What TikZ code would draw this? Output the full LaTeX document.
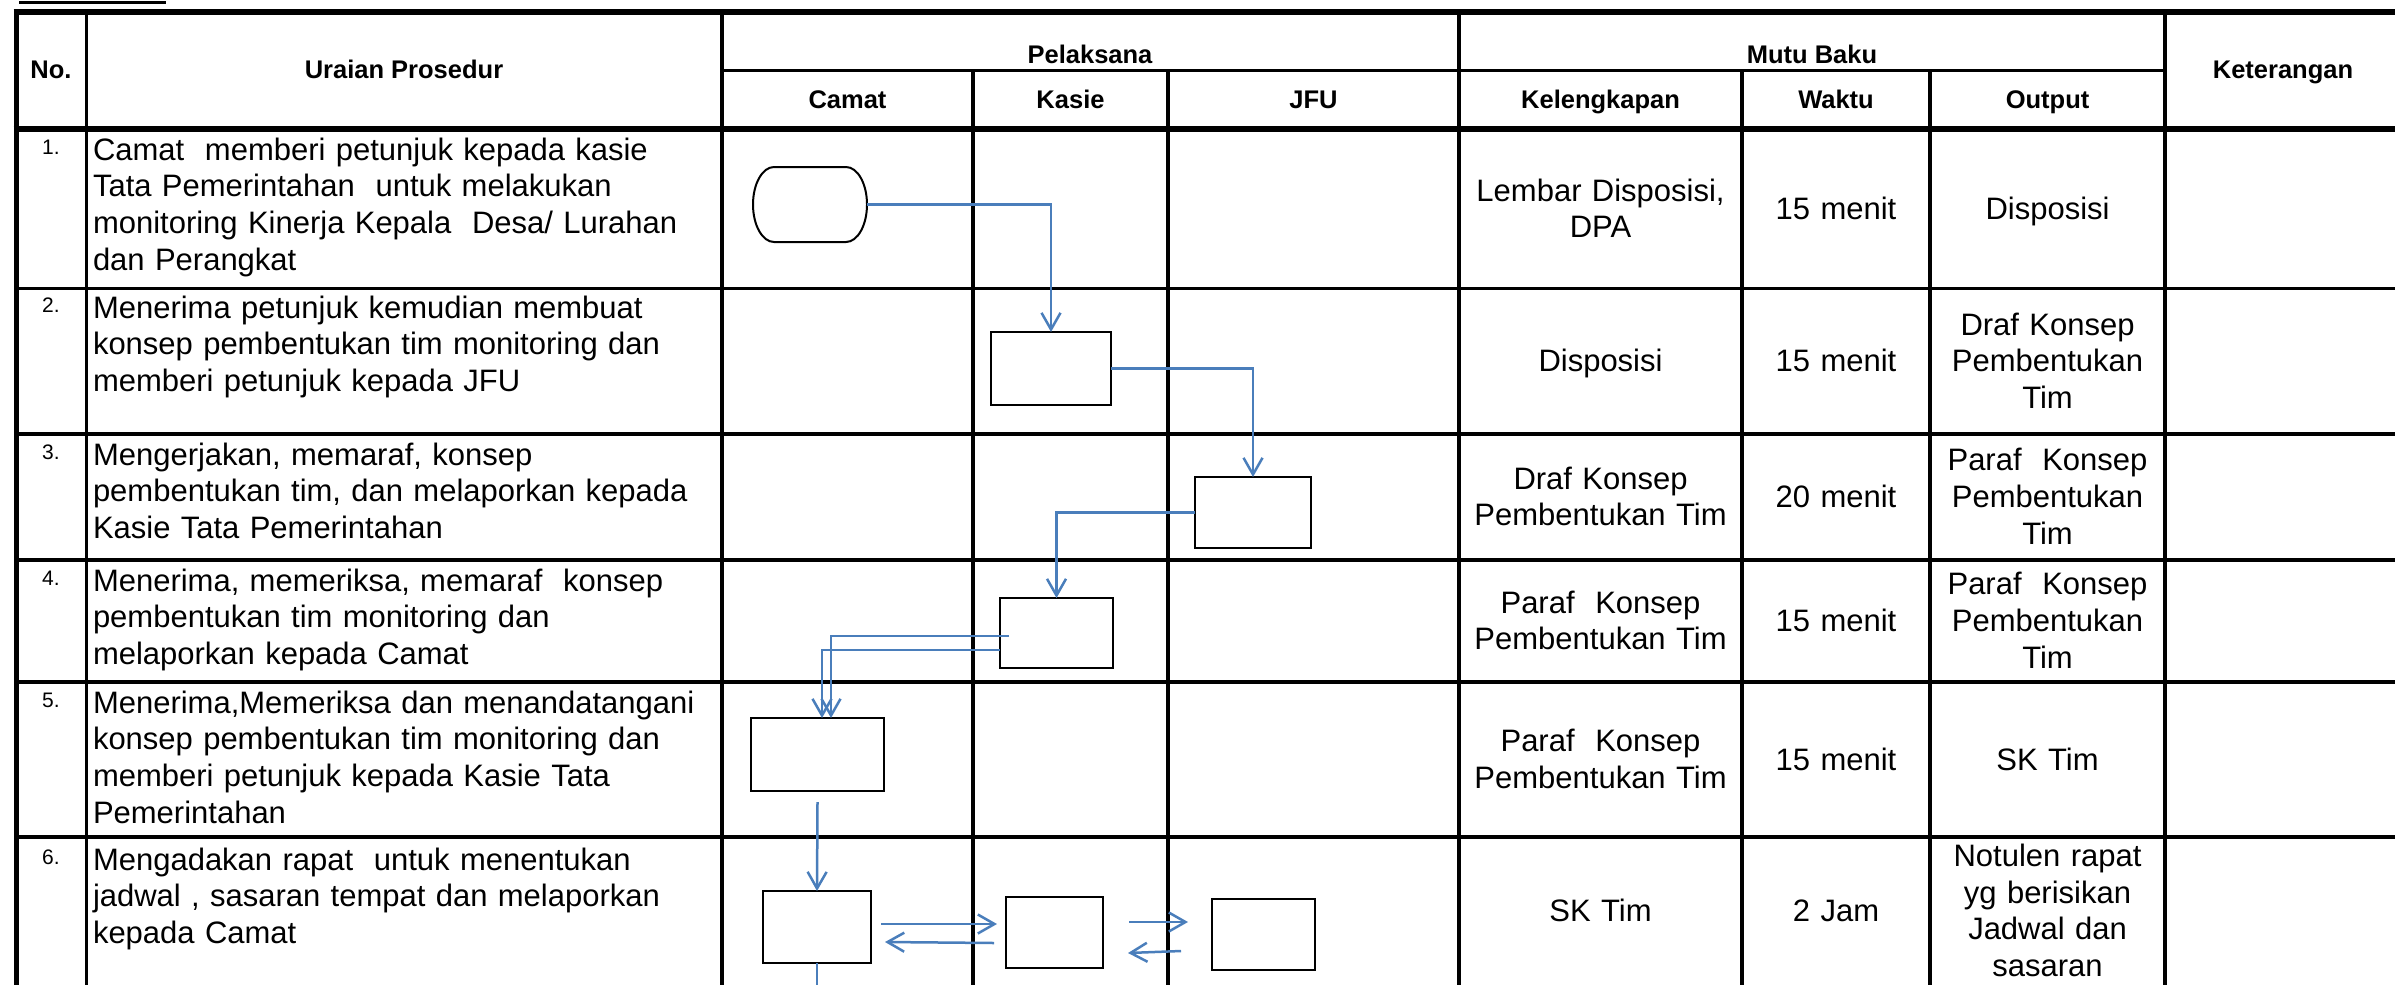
\documentclass[tikz,border=0pt]{standalone}
\usepackage{fontspec}
\setmainfont{Liberation Sans}
\usetikzlibrary{arrows.meta,calc}
\definecolor{flowblue}{RGB}{74,126,187}
\tikzset{
  body/.style={font=\fontsize{9.3pt}{11pt}\selectfont, inner sep=0pt, outer sep=0pt},
  uraian/.style={body, anchor=base west, text width=200pt, align=left},
  cell/.style={body, anchor=base, align=center, text width=#1},
  hdr/.style={font=\fontsize{7.65pt}{9pt}\selectfont\bfseries, inner sep=0pt, anchor=base},
  num/.style={font=\fontsize{6.3pt}{7.5pt}\selectfont, inner sep=0pt, anchor=base},
  gridmain/.style={line width=1pt, black},
  gridsub/.style={line width=0.8pt, black},
  gridheavy/.style={line width=1.8pt, black},
  procbox/.style={draw=black, line width=0.6pt, rectangle, inner sep=0pt, outer sep=0pt},
  termbox/.style={rectangle, inner sep=0pt, outer sep=0pt, minimum width=34.2pt, minimum height=22.5pt},
  flowarrow/.style={draw=flowblue, line width=0.75pt, -{Straight Barb[length=5pt,width=5.7pt]}},
  flowline/.style={draw=flowblue, line width=0.75pt},
}
\begin{document}
\begin{tikzpicture}[x=0.3pt,y=-0.3pt]
\useasboundingbox (0,0) rectangle (2395,984);
\clip (0,0) rectangle (2395,984);

% ---------- table grid ----------
\draw[line width=0.9pt] (19,2.5) -- (166,2.5);
\draw[line width=1.5pt] (16,9) -- (16,1000);
\draw[gridheavy] (13.5,12) -- (2410,12);
\draw[gridheavy] (13.5,129) -- (2410,129);
\draw[gridsub] (722,70.5) -- (2165,70.5);
\foreach \y in {288.5,434,560,682,837} \draw[gridmain] (16,\y) -- (2410,\y);
\foreach \x in {86.7,722,1459,2165} \draw[gridmain] (\x,12) -- (\x,1000);
\foreach \x in {973,1168,1742,1930} \draw[gridmain] (\x,70.5) -- (\x,1000);

% ---------- header ----------
\node[hdr] (hno) at (51,78) {No.};
\node[hdr] (hur) at (404,78) {Uraian Prosedur};
\node[hdr] (hpel) at (1090,63) {Pelaksana};
\node[hdr] (hmb) at (1812,63) {Mutu Baku};
\node[hdr] (hket) at (2283,78) {Keterangan};
\node[hdr] (hcam) at (847.5,108) {Camat};
\node[hdr] (hkas) at (1070.5,108) {Kasie};
\node[hdr] (hjfu) at (1313.5,108) {JFU};
\node[hdr] (hkel) at (1600.5,108) {Kelengkapan};
\node[hdr] (hwak) at (1836,108) {Waktu};
\node[hdr] (hout) at (2047.5,108) {Output};

% ---------- numbers ----------
\node[num] (n1) at (51,154) {1.};
\node[num] (n2) at (51,312) {2.};
\node[num] (n3) at (51,459) {3.};
\node[num] (n4) at (51,585) {4.};
\node[num] (n5) at (51,707) {5.};
\node[num] (n6) at (51,864) {6.};

% ---------- procedure texts ----------
\node[uraian] (u1) at (93,160) {Camat\ \ memberi petunjuk kepada kasie\\Tata Pemerintahan\ \ untuk melakukan\\monitoring Kinerja Kepala\ \ Desa/ Lurahan\\dan Perangkat};
\node[uraian] (u2) at (93,318) {Menerima petunjuk kemudian membuat\\konsep pembentukan tim monitoring dan\\memberi petunjuk kepada JFU};
\node[uraian] (u3) at (93,465) {Mengerjakan, memaraf, konsep\\pembentukan tim, dan melaporkan kepada\\Kasie Tata Pemerintahan};
\node[uraian] (u4) at (93,591) {Menerima, memeriksa, memaraf\ \ konsep\\pembentukan tim monitoring dan\\melaporkan kepada Camat};
\node[uraian] (u5) at (93,713) {Menerima,Memeriksa dan menandatangani\\konsep pembentukan tim monitoring dan\\memberi petunjuk kepada Kasie Tata\\Pemerintahan};
\node[uraian] (u6) at (93,870) {Mengadakan rapat\ \ untuk menentukan\\jadwal , sasaran tempat dan melaporkan\\kepada Camat};

% ---------- Mutu Baku cells ----------
\node[cell=80pt] (k1) at (1600.5,201) {Lembar Disposisi,\\DPA};
\node[cell=52pt] (w1) at (1836,219.3) {15 menit};
\node[cell=66pt] (o1) at (2047.5,219.3) {Disposisi};

\node[cell=80pt] (k2) at (1600.5,371.8) {Disposisi};
\node[cell=52pt] (w2) at (1836,371.8) {15 menit};
\node[cell=66pt] (o2) at (2047.5,335) {Draf Konsep\\Pembentukan\\Tim};

\node[cell=80pt] (k3) at (1600.5,489.2) {Draf Konsep\\Pembentukan Tim};
\node[cell=52pt] (w3) at (1836,507.5) {20 menit};
\node[cell=66pt] (o3) at (2047.5,470.8) {Paraf\ \ Konsep\\Pembentukan\\Tim};

\node[cell=80pt] (k4) at (1600.5,613.2) {Paraf\ \ Konsep\\Pembentukan Tim};
\node[cell=52pt] (w4) at (1836,631.5) {15 menit};
\node[cell=66pt] (o4) at (2047.5,594.8) {Paraf\ \ Konsep\\Pembentukan\\Tim};

\node[cell=80pt] (k5) at (1600.5,751.7) {Paraf\ \ Konsep\\Pembentukan Tim};
\node[cell=52pt] (w5) at (1836,770) {15 menit};
\node[cell=66pt] (o5) at (2047.5,770) {SK Tim};

\node[cell=80pt] (k6) at (1600.5,921.5) {SK Tim};
\node[cell=52pt] (w6) at (1836,921.5) {2 Jam};
\node[cell=66pt] (o6) at (2047.5,866.5) {Notulen rapat\\yg berisikan\\Jadwal dan\\sasaran};

% ---------- flowchart shapes ----------
\node[termbox] (t1) at (810,204.5) {};
\draw[line width=0.6pt, black]
  ($(t1.north west)+(21,0)$) -- ($(t1.north east)+(-21,0)$)
  arc[start angle=90, end angle=-90, x radius=6.3pt, y radius=11.25pt]
  -- ($(t1.south west)+(21,0)$)
  arc[start angle=270, end angle=90, x radius=6.3pt, y radius=11.25pt]
  -- cycle;

\node[procbox, minimum width=36pt, minimum height=21.9pt] (b2) at (1051,368.5) {};
\node[procbox, minimum width=34.8pt, minimum height=21.3pt] (b3) at (1253,512.5) {};
\node[procbox, minimum width=33.9pt, minimum height=21pt] (b4) at (1056.5,633) {};
\node[procbox, minimum width=39.9pt, minimum height=21.9pt] (b5) at (817.5,754.5) {};
\node[procbox, minimum width=32.4pt, minimum height=21.6pt] (b6) at (817,927) {};
\node[procbox, minimum width=29.1pt, minimum height=21.3pt] (b7) at (1054.5,932.5) {};
\node[procbox, minimum width=30.9pt, minimum height=21.3pt] (b8) at (1263.5,934.5) {};

% ---------- connectors ----------
\draw[flowarrow] (t1.east) -| (b2.north);
\draw[flowarrow] (b2.east) -| (b3.north);
\draw[flowarrow] (b3.west) -| (b4.north);
\coordinate (a4s) at ($(b4.west)+(9,3)$);
\coordinate (a4e) at ($(b5.north)+(13.5,0)$);
\coordinate (b4s) at ($(b4.west)+(0,17)$);
\coordinate (b4e) at ($(b5.north)+(4.5,0)$);
\draw[flowarrow] (a4s) -| (a4e);
\draw[flowarrow] (b4s) -| (b4e);
\draw[flowarrow] ($(b5.south)+(0,11)$) -- (b6.north);
\coordinate (b6down) at ($(b6.south)+(0,40)$);
\draw[flowline] (b6.south) -- (b6down);

\coordinate (r6as) at ($(b6.east)+(10,-3)$);
\coordinate (r6ae) at ($(b7.west)+(-9,-8.5)$);
\coordinate (r6bs) at ($(b7.west)+(-12,10.5)$);
\coordinate (r6be) at ($(b6.east)+(14,15)$);
\coordinate (r6cs) at ($(b7.east)+(26,-10.5)$);
\coordinate (r6ce) at ($(b8.west)+(-24,-12.5)$);
\coordinate (r6ds) at ($(b8.west)+(-31,16.5)$);
\coordinate (r6de) at ($(b7.east)+(25,20.5)$);
\draw[flowarrow] (r6as) -- (r6ae);
\draw[flowarrow] (r6bs) -- (r6be);
\draw[flowarrow] (r6cs) -- (r6ce);
\draw[flowarrow] (r6ds) -- (r6de);
\end{tikzpicture}
\end{document}
